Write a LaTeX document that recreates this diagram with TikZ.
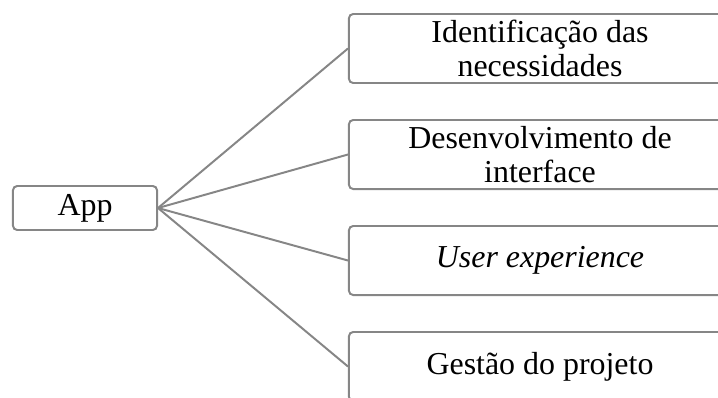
\documentclass[tikz,border=0pt]{standalone}
\usepackage{fontspec}
\setmainfont{Liberation Serif}
\definecolor{edgegray}{RGB}{134,134,134}

\begin{document}
\begin{tikzpicture}[x=0.025cm,y=-0.025cm,
    box/.style={draw=edgegray, line width=1.4pt, rounded corners=3pt, fill=white,
      align=center, inner sep=0pt, font=\fontsize{22.7}{23.6}\selectfont},
    topic/.style={box, minimum width=9.55cm, minimum height=1.725cm},
    link/.style={draw=edgegray, line width=1.4pt}]

    % fix the visible area
    \clip (0,0) rectangle (718,397);

    % draw nodes
    \node[box, minimum width=3.6cm, minimum height=1.1cm] (app) at (85,208) {App};
    \node[topic] (ident) at (540,48.5) {Identificação das\\necessidades};
    \node[topic] (interf) at (540,154.5) {Desenvolvimento de\\interface};
    \node[topic] (ux) at (540,260.5) {\textit{User experience}};
    \node[topic] (gestao) at (540,366.5) {Gestão do projeto};

    % draw lines
    \foreach \n in {ident,interf,ux,gestao}
      \draw[link] (app.east) -- (\n.west);
\end{tikzpicture}
\end{document}
